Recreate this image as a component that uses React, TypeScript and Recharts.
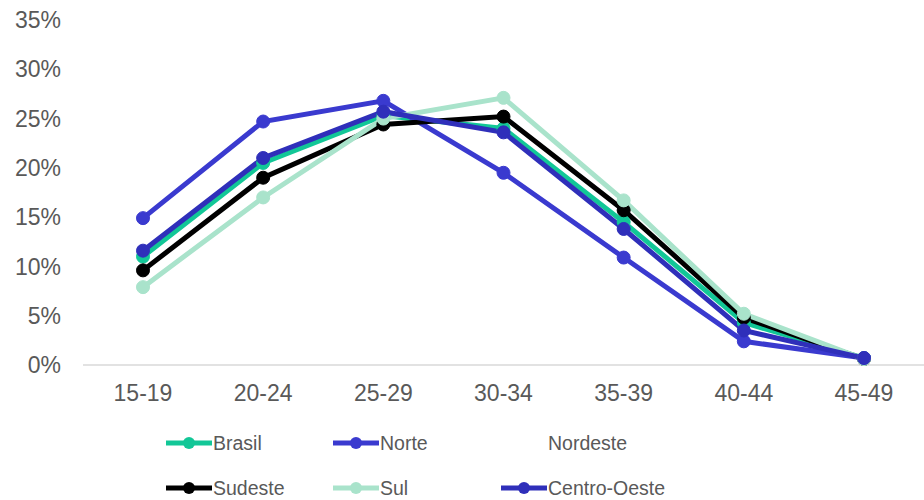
import React from 'react';
import { LineChart, Line, XAxis, YAxis } from 'recharts';

const ageGroups = ['15-19', '20-24', '25-29', '30-34', '35-39', '40-44', '45-49'];

const brasil = [11.0, 20.5, 25.3, 24.0, 14.5, 4.3, 0.7];
const norte = [14.9, 24.7, 26.8, 19.5, 10.9, 2.4, 0.7];
const sudeste = [9.6, 19.0, 24.4, 25.2, 15.7, 4.8, 0.6];
const sul = [7.9, 17.0, 25.0, 27.1, 16.7, 5.2, 0.6];
const centroOeste = [11.6, 21.0, 25.7, 23.6, 13.8, 3.5, 0.7];

const yTicks = [0, 5, 10, 15, 20, 25, 30, 35];

const series = [
  { key: 'brasil', name: 'Brasil', color: '#12C797', values: brasil },
  { key: 'norte', name: 'Norte', color: '#3A3ACF', values: norte },
  { key: 'nordeste', name: 'Nordeste', color: null, values: null },
  { key: 'sudeste', name: 'Sudeste', color: '#000000', values: sudeste },
  { key: 'sul', name: 'Sul', color: '#A9E3CB', values: sul },
  { key: 'centroOeste', name: 'Centro-Oeste', color: '#2F2FBA', values: centroOeste },
];

const data = ageGroups.map((g, i) => {
  const row: any = { group: g };
  series.forEach(s => {
    if (s.values) row[s.key] = s.values[i];
  });
  return row;
});

const font = '"Liberation Sans", Arial, sans-serif';
const textColor = '#595959';

const LegendBlock = () => {
  const colX = [166, 333, 501];
  const rowY = [443, 488];
  return (
    <>
      {series.map((s, i) => {
        const left = colX[i % 3];
        const top = rowY[Math.floor(i / 3)];
        return (
          <div key={s.key} style={{ position: 'absolute', left, top: top - 12, height: 24, display: 'flex', alignItems: 'center' }}>
            <svg width={47} height={24} style={{ visibility: s.color ? 'visible' : 'hidden' }}>
              <line x1={0} y1={12} x2={46} y2={12} stroke={s.color || '#fff'} strokeWidth={5} />
              <circle cx={23} cy={12} r={6} fill={s.color || '#fff'} />
            </svg>
            <span style={{ fontFamily: font, fontSize: 19.5, color: textColor }}>{s.name}</span>
          </div>
        );
      })}
    </>
  );
};

export default function App() {
  return (
    <div style={{ position: 'absolute', left: 0, top: 0, width: 924, height: 500, background: '#fff' }}>
      <LineChart width={924} height={420} data={data} margin={{ top: 20, right: 0, left: 0, bottom: 0 }}>
        <XAxis
          dataKey="group"
          padding={{ left: 60, right: 60 }}
          tickLine={false}
          axisLine={{ stroke: '#D9D9D9', strokeWidth: 1.5 }}
          tick={{ fill: textColor, fontSize: 23, fontFamily: font }}
          tickMargin={14}
          height={55}
        />
        <YAxis
          width={83}
          domain={[0, 35]}
          ticks={yTicks}
          tickFormatter={(v: number) => `${v}%`}
          axisLine={false}
          tickLine={false}
          tickMargin={16}
          tick={{ fill: textColor, fontSize: 23, fontFamily: font }}
        />
        {series.filter(s => s.values).map(s => (
          <Line
            key={s.key}
            dataKey={s.key}
            name={s.name}
            stroke={s.color as string}
            strokeWidth={5}
            dot={{ r: 6.5, fill: s.color as string, stroke: s.color as string, strokeWidth: 1 }}
            isAnimationActive={false}
          />
        ))}
      </LineChart>
      <LegendBlock />
    </div>
  );
}
